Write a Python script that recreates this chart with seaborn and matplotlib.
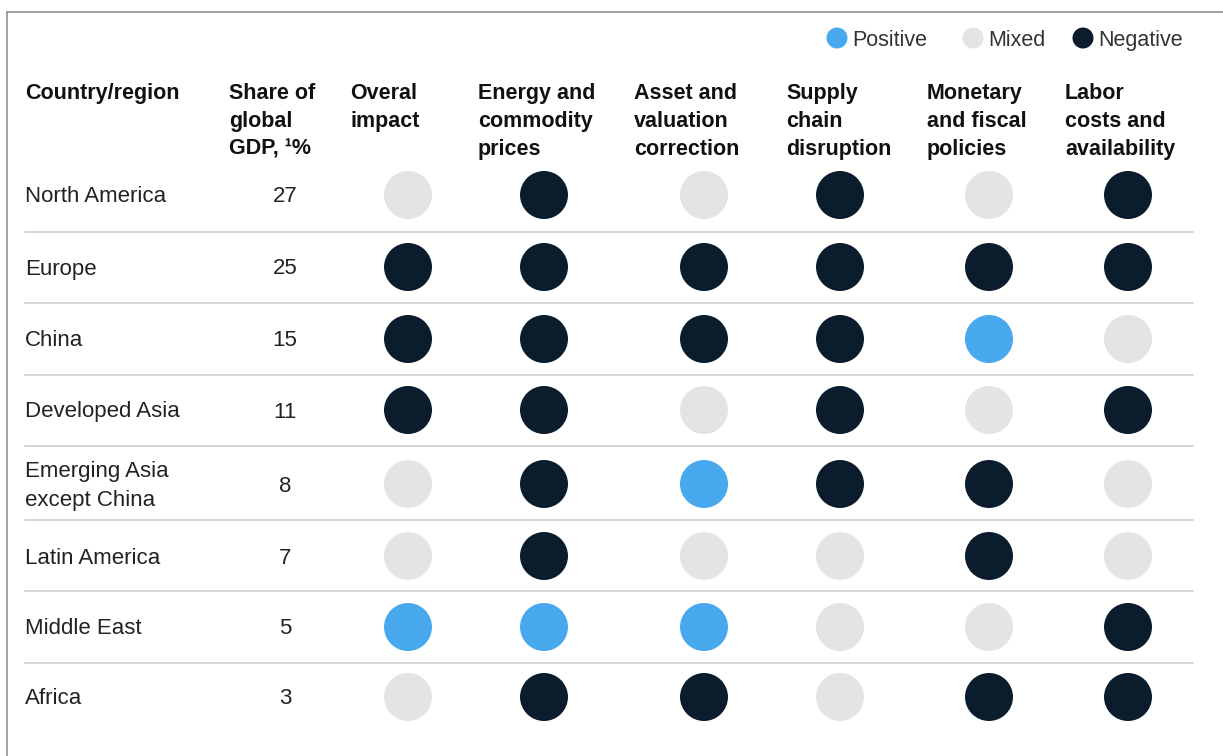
import matplotlib
matplotlib.use("Agg")
import matplotlib.pyplot as plt
import seaborn as sns
import pandas as pd

# ---- data ----
regions = ["North America", "Europe", "China", "Developed Asia",
           "Emerging Asia\nexcept China", "Latin America", "Middle East", "Africa"]
gdp_share = [27, 25, 15, 11, 8, 7, 5, 3]
factors = ["Overal\nimpact", "Energy and\ncommodity\nprices", "Asset and\nvaluation\ncorrection",
           "Supply\nchain\ndisruption", "Monetary\nand fiscal\npolicies", "Labor\ncosts and\navailability"]
overall   = ["Mixed", "Negative", "Negative", "Negative", "Mixed", "Mixed", "Positive", "Mixed"]
energy    = ["Negative", "Negative", "Negative", "Negative", "Negative", "Negative", "Positive", "Negative"]
asset     = ["Mixed", "Negative", "Negative", "Mixed", "Positive", "Mixed", "Positive", "Negative"]
supply    = ["Negative", "Negative", "Negative", "Negative", "Negative", "Mixed", "Mixed", "Mixed"]
monetary  = ["Mixed", "Negative", "Positive", "Mixed", "Negative", "Negative", "Mixed", "Negative"]
labor     = ["Negative", "Negative", "Mixed", "Negative", "Mixed", "Mixed", "Negative", "Negative"]
statuses = ["Positive", "Mixed", "Negative"]
colors = {"Positive": "#48A9EE", "Mixed": "#E4E4E4", "Negative": "#0B1D2D"}

# ---- layout (pixels) ----
W, H = 1223, 756
col_x = [408, 544, 704, 840, 989, 1128]
header_x = [350, 478, 634, 786, 927, 1065]
row_y = [195, 267, 339, 410, 484, 556, 627, 697]
sep_y = [232, 303, 375, 446, 520, 591, 663]

plt.rcParams['font.family'] = ['Liberation Sans', 'DejaVu Sans']
fig = plt.figure(figsize=(W / 100, H / 100), dpi=100)
ax = fig.add_axes([0, 0, 1, 1])
ax.set_xlim(0, W)
ax.set_ylim(H, 0)
ax.axis("off")

series = [overall, energy, asset, supply, monetary, labor]
recs = []
for j, s in enumerate(series):
    for i, v in enumerate(s):
        recs.append({"x": col_x[j], "y": row_y[i], "status": v})
df = pd.DataFrame(recs)
sns.scatterplot(data=df, x="x", y="y", hue="status", hue_order=statuses,
                palette=colors, s=(48 * 0.72) ** 2, linewidth=0, legend=False, ax=ax, zorder=3)

# frame (top and left)
ax.plot([7, W], [12, 12], color="#9a9a9a", lw=1.3, clip_on=False)
ax.plot([7, 7], [12, H], color="#9a9a9a", lw=1.3, clip_on=False)

# separators
for y in sep_y:
    ax.plot([25, 1193], [y, y], color="#d0d0d0", lw=1.2)

hdr_kw = dict(fontsize=15.5, fontweight="bold", color="#111111", va="baseline", ha="left")
def header(x, txt):
    for k, line in enumerate(txt.split("\n")):
        ax.text(x, 99 + 28 * k, line, **hdr_kw)

header(25, "Country/region")
header(229, "Share of\nglobal\nGDP, \u00b9%")
for x, f in zip(header_x, factors):
    header(x, f)

for i, (r, g) in enumerate(zip(regions, gdp_share)):
    ax.text(25, row_y[i] + 2, r, fontsize=16, color="#222222", va="center", ha="left", linespacing=1.5)
    ax.text(285, row_y[i] + 2, str(g), fontsize=16, color="#222222", va="center", ha="center")

# legend
leg_x = [837, 973, 1083]
leg = pd.DataFrame({"x": leg_x, "y": [38, 38, 38], "status": statuses})
sns.scatterplot(data=leg, x="x", y="y", hue="status", hue_order=statuses, palette=colors,
                s=(21 * 0.72) ** 2, linewidth=0, legend=False, ax=ax, zorder=3)
for x, s in zip(leg_x, statuses):
    ax.text(x + 15, 46, s, fontsize=15.5, color="#333333", va="baseline", ha="left")

ax.set_xlabel("")
ax.set_ylabel("")
fig.savefig("out.png", dpi=100)
